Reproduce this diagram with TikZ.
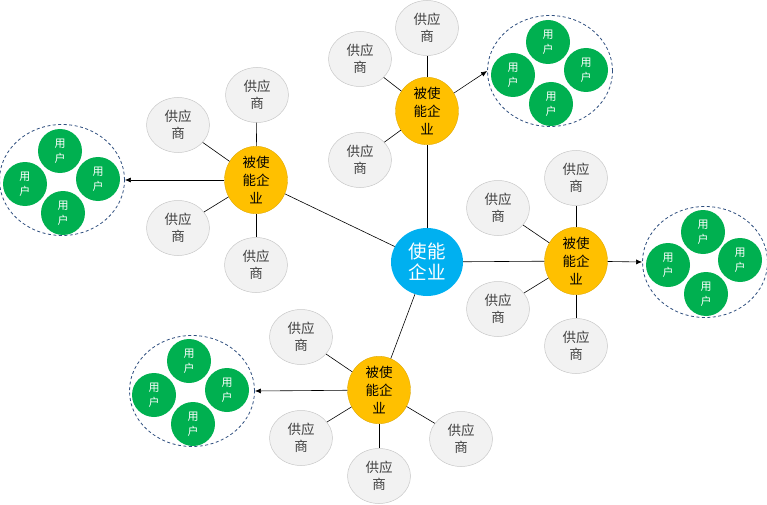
\documentclass[tikz,border=0pt]{standalone}
\usepackage{fontspec}
\setmainfont{Noto Sans CJK SC}
\usetikzlibrary{shapes.geometric,arrows.meta}
\definecolor{sup}{HTML}{F2F2F2}
\definecolor{supb}{HTML}{C8C8C8}
\definecolor{org}{HTML}{FFC000}
\definecolor{blu}{HTML}{00B0F0}
\definecolor{grn}{HTML}{00B050}
\definecolor{dsh}{HTML}{2F4F7F}
\definecolor{txt}{HTML}{404040}
\tikzset{
  supnode/.style={ellipse,draw=supb,line width=0.5pt,fill=sup,minimum width=63pt,minimum height=55pt,inner sep=0pt,align=center,font=\fontsize{13.5}{17.5}\selectfont,text=txt},
  orgnode/.style={ellipse,draw=org!85!black,line width=0.3pt,fill=org,minimum width=63pt,minimum height=55pt,inner sep=0pt,align=center,font=\fontsize{13.5}{18}\selectfont,text=black},
  cennode/.style={ellipse,fill=blu,minimum width=72pt,minimum height=68pt,inner sep=0pt,align=center,font=\fontsize{18.5}{21}\selectfont,text=white},
  usrnode/.style={circle,fill=grn,minimum size=44pt,inner sep=0pt,align=center,font=\fontsize{11}{15}\selectfont,text=white},
  grpnode/.style={ellipse,draw=dsh,dash pattern=on 3pt off 2.5pt,line width=0.8pt,minimum width=125pt,minimum height=111pt,inner sep=0pt},
  link/.style={draw=black,line width=0.6pt},
  arr/.style={draw=black,line width=0.6pt,-{Latex[length=6pt,width=5pt]}},
}
\begin{document}
\begin{tikzpicture}[x=1pt,y=-1pt]
\useasboundingbox (0,0) rectangle (767,505);
% center
\node[cennode] (C) at (427,262) {使能\\企业};
% top group
\node[orgnode] (T) at (427,111) {被使\\能企\\业};
\node[supnode] (T1) at (427,28) {供应\\商};
\node[supnode] (T2) at (360,59) {供应\\商};
\node[supnode] (T3) at (360,160) {供应\\商};
\node[grpnode] (TG) at (550,71) {};
\node[usrnode] at (548,42) {用\\户};
\node[usrnode] at (513,75) {用\\户};
\node[usrnode] at (586,70) {用\\户};
\node[usrnode] at (551,104) {用\\户};
% left group
\node[orgnode] (L) at (256,180) {被使\\能企\\业};
\node[supnode] (L1) at (257,95) {供应\\商};
\node[supnode] (L2) at (178,125) {供应\\商};
\node[supnode] (L3) at (178,228) {供应\\商};
\node[supnode] (L4) at (256,265) {供应\\商};
\node[grpnode] (LG) at (62,180) {};
\node[usrnode] at (60,151) {用\\户};
\node[usrnode] at (25,184) {用\\户};
\node[usrnode] at (98,179) {用\\户};
\node[usrnode] at (63,213) {用\\户};
% right group
\node[orgnode] (R) at (576,261) {被使\\能企\\业};
\node[supnode] (R1) at (576,178) {供应\\商};
\node[supnode] (R2) at (498,208) {供应\\商};
\node[supnode] (R3) at (498,309) {供应\\商};
\node[supnode] (R4) at (576,346) {供应\\商};
\node[grpnode] (RG) at (705,262) {};
\node[usrnode] at (703,232) {用\\户};
\node[usrnode] at (668,265) {用\\户};
\node[usrnode] at (740,260) {用\\户};
\node[usrnode] at (706,294) {用\\户};
% bottom group
\node[orgnode] (B) at (379,390) {被使\\能企\\业};
\node[supnode] (B1) at (301,337) {供应\\商};
\node[supnode] (B2) at (301,438) {供应\\商};
\node[supnode] (B3) at (379,476) {供应\\商};
\node[supnode] (B4) at (461,439) {供应\\商};
\node[grpnode] (BG) at (192,391) {};
\node[usrnode] at (189,361) {用\\户};
\node[usrnode] at (154,395) {用\\户};
\node[usrnode] at (227,390) {用\\户};
\node[usrnode] at (193,424) {用\\户};
% links
\draw[link] (C) -- (T);
\draw[link] (C) -- (L);
\draw[link] (C) -- (R);
\draw[link] (C) -- (B);
\draw[link] (T) -- (T1);
\draw[link] (T) -- (T2);
\draw[link] (T) -- (T3);
\draw[link] (L) -- (L1);
\draw[link] (L) -- (L2);
\draw[link] (L) -- (L3);
\draw[link] (L) -- (L4);
\draw[link] (R) -- (R1);
\draw[link] (R) -- (R2);
\draw[link] (R) -- (R3);
\draw[link] (R) -- (R4);
\draw[link] (B) -- (B1);
\draw[link] (B) -- (B2);
\draw[link] (B) -- (B3);
\draw[link] (B) -- (B4);
\draw[arr] (T) -- (TG.west);
\draw[arr] (L) -- (LG.east);
\draw[arr] (R) -- (RG.west);
\draw[arr] (B) -- (BG.east);
\end{tikzpicture}
\end{document}
